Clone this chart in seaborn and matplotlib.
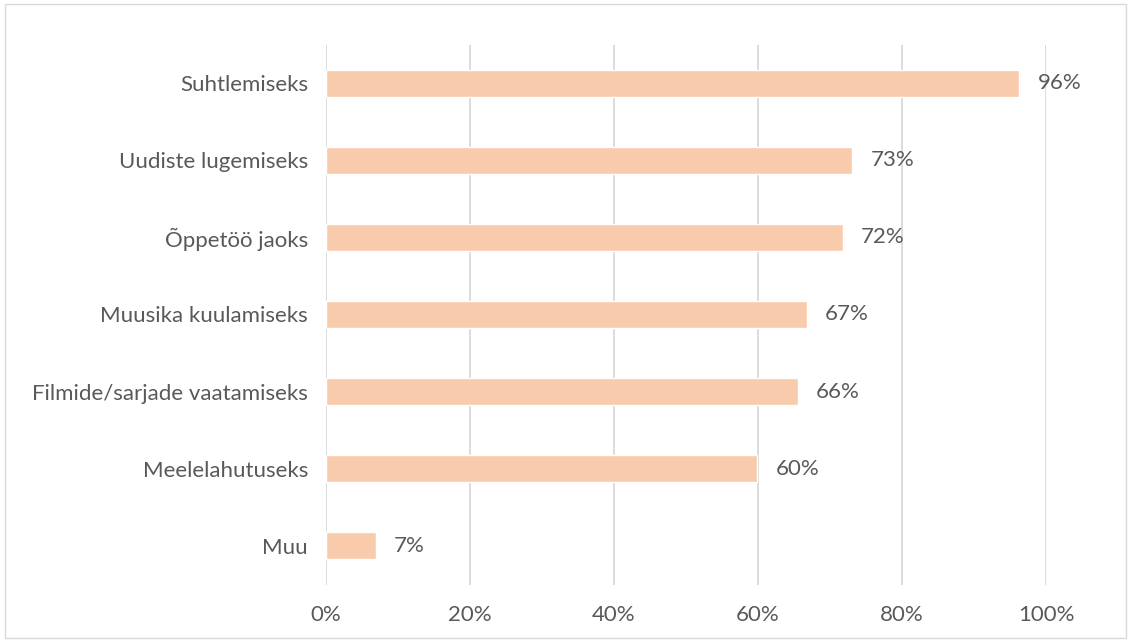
import matplotlib
matplotlib.use("Agg")
import matplotlib.pyplot as plt
import seaborn as sns
import pandas as pd
from matplotlib.ticker import PercentFormatter

# Data
categories = ["Suhtlemiseks", "Uudiste lugemiseks", "Õppetöö jaoks",
              "Muusika kuulamiseks", "Filmide/sarjade vaatamiseks",
              "Meelelahutuseks", "Muu"]
shares = [96.3, 73.1, 71.8, 66.8, 65.5, 59.9, 6.9]
x_ticks = [0, 20, 40, 60, 80, 100]

df = pd.DataFrame({"category": categories, "share": shares})

sns.set_style("white")
plt.rcParams["font.family"] = ["Lato", "DejaVu Sans"]

text_col = "#595959"
bar_col = "#F8CBAD"
grid_col = "#D9D9D9"
fs = 16

fig = plt.figure(figsize=(11.31, 6.41), dpi=100)
ax = fig.add_axes([326 / 1131, 1 - 584.5 / 641, 720 / 1131, 540 / 641])

sns.barplot(data=df, x="share", y="category", orient="h", color=bar_col,
            width=0.35, saturation=1, ax=ax, zorder=3)

ax.set_xlim(0, 100)
ax.set_xticks(x_ticks)
ax.xaxis.set_major_formatter(PercentFormatter(decimals=0))
ax.grid(axis="x", color=grid_col, linewidth=1.3, zorder=0)
ax.set_axisbelow(True)
for s in ax.spines.values():
    s.set_visible(False)
ax.tick_params(axis="both", length=0, labelsize=fs, colors=text_col)
ax.tick_params(axis="y", pad=13)
ax.tick_params(axis="x", pad=15)
ax.set_xlabel("")
ax.set_ylabel("")

# value labels
for i, v in enumerate(shares):
    ax.annotate(f"{round(v)}%", (v, i), xytext=(13, 0), textcoords="offset points",
                va="center", ha="left", fontsize=fs, color=text_col)

# light frame around the chart area
fig.patches.append(plt.Rectangle((0.004, 0.004), 0.992, 0.99, transform=fig.transFigure,
                                 fill=False, edgecolor=grid_col, linewidth=1))

fig.savefig("out.png", dpi=100)
